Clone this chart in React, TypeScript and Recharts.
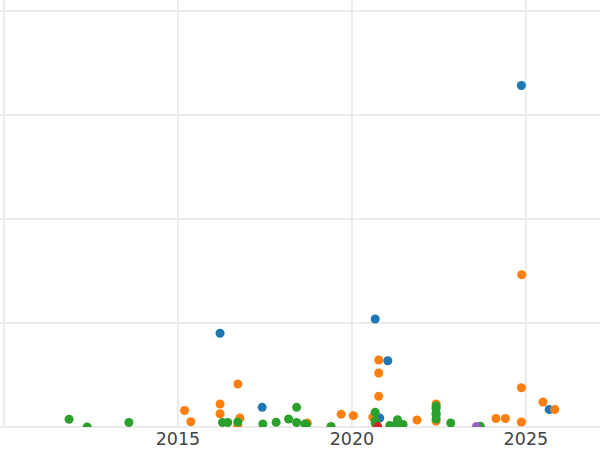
import React from "react";
import { ScatterChart, Scatter, XAxis, YAxis, ZAxis, ReferenceLine } from "recharts";

const xTicks = [2010, 2015, 2020, 2025];
const yTicks = [0, 100, 200, 300, 400];

const blueSeries = [
  { x: 2024.87, y: 328.4 },
  { x: 2020.67, y: 103.8 },
  { x: 2016.21, y: 90.1 },
  { x: 2021.03, y: 63.7 },
  { x: 2017.42, y: 18.9 },
  { x: 2020.8, y: 8.7 },
  { x: 2025.67, y: 16.8 },
];

const orangeSeries = [
  { x: 2024.88, y: 146.4 },
  { x: 2020.77, y: 64.4 },
  { x: 2020.77, y: 51.9 },
  { x: 2016.72, y: 41.3 },
  { x: 2024.87, y: 37.8 },
  { x: 2020.77, y: 29.5 },
  { x: 2025.49, y: 24.0 },
  { x: 2016.21, y: 22.1 },
  { x: 2022.42, y: 22.1 },
  { x: 2015.19, y: 15.9 },
  { x: 2025.83, y: 16.8 },
  { x: 2016.21, y: 12.8 },
  { x: 2019.69, y: 12.2 },
  { x: 2020.04, y: 10.9 },
  { x: 2020.6, y: 9.5 },
  { x: 2016.78, y: 8.7 },
  { x: 2024.14, y: 8.2 },
  { x: 2024.41, y: 8.2 },
  { x: 2021.87, y: 6.7 },
  { x: 2015.37, y: 5.1 },
  { x: 2022.42, y: 5.8 },
  { x: 2024.87, y: 4.8 },
  { x: 2016.72, y: 2.0 },
  { x: 2018.72, y: 3.8 },
];

const greenSeries = [
  { x: 2011.87, y: 7.4 },
  { x: 2012.39, y: 0 },
  { x: 2013.59, y: 4.3 },
  { x: 2016.28, y: 4.3 },
  { x: 2016.43, y: 4.3 },
  { x: 2016.72, y: 4.8 },
  { x: 2017.44, y: 2.9 },
  { x: 2017.82, y: 4.6 },
  { x: 2018.18, y: 7.7 },
  { x: 2018.41, y: 18.9 },
  { x: 2018.41, y: 4.3 },
  { x: 2018.65, y: 2.9 },
  { x: 2018.69, y: 2.5 },
  { x: 2019.4, y: 0.5 },
  { x: 2020.67, y: 14.1 },
  { x: 2020.67, y: 6.0 },
  { x: 2020.67, y: 3.5 },
  { x: 2021.09, y: 1.5 },
  { x: 2021.31, y: 7.0 },
  { x: 2021.28, y: 2.9 },
  { x: 2021.47, y: 2.5 },
  { x: 2022.42, y: 20.2 },
  { x: 2022.42, y: 18.0 },
  { x: 2022.42, y: 13.2 },
  { x: 2022.42, y: 11.5 },
  { x: 2022.42, y: 7.7 },
  { x: 2022.84, y: 3.8 },
  { x: 2023.69, y: 0.8 },
];

const redSeries = [{ x: 2020.74, y: 0.5 }];

const purpleSeries = [{ x: 2023.58, y: 0.5 }];

const XTick = (props: any) => {
  const { x, y, payload } = props;
  if (payload.value === 2010) return null;
  return (
    <text
      x={x}
      y={y}
      dy="0.71em"
      textAnchor="middle"
      fill="#444444"
      fontSize={17.5}
      fontFamily="DejaVu Sans"
    >
      {payload.value}
    </text>
  );
};

const EmptyTick = () => <g />;

export default function App() {
  return (
    <div style={{ position: "absolute", left: 0, top: 0, width: 600, height: 450, background: "#ffffff" }}>
      <ScatterChart
        width={600}
        height={450}
        margin={{ top: 0, right: 0, bottom: 0, left: 0 }}
      >
        <XAxis
          type="number"
          dataKey="x"
          domain={[2009.885, 2027.13]}
          ticks={xTicks}
          allowDataOverflow
          axisLine={false}
          tickLine={false}
          tickMargin={0}
          height={23}
          tick={<XTick />}
        />
        <YAxis
          type="number"
          dataKey="y"
          domain={[0, 410.6]}
          ticks={yTicks}
          allowDataOverflow
          width={0}
          tick={<EmptyTick />}
          axisLine={false}
          tickLine={false}
        />
        <ZAxis range={[72, 72]} />
        {yTicks.map((t) => (
          <ReferenceLine key={"h" + t} y={t} stroke="#ebebeb" strokeWidth={2} />
        ))}
        {xTicks.map((t) => (
          <ReferenceLine key={"v" + t} x={t} stroke="#ebebeb" strokeWidth={2} />
        ))}
        <Scatter data={blueSeries} fill="#1f77b4" isAnimationActive={false} />
        <Scatter data={orangeSeries} fill="#ff7f0e" isAnimationActive={false} />
        <Scatter data={greenSeries} fill="#2ca02c" isAnimationActive={false} />
        <Scatter data={redSeries} fill="#d62728" isAnimationActive={false} />
        <Scatter data={purpleSeries} fill="#9467bd" isAnimationActive={false} />
      </ScatterChart>
    </div>
  );
}
